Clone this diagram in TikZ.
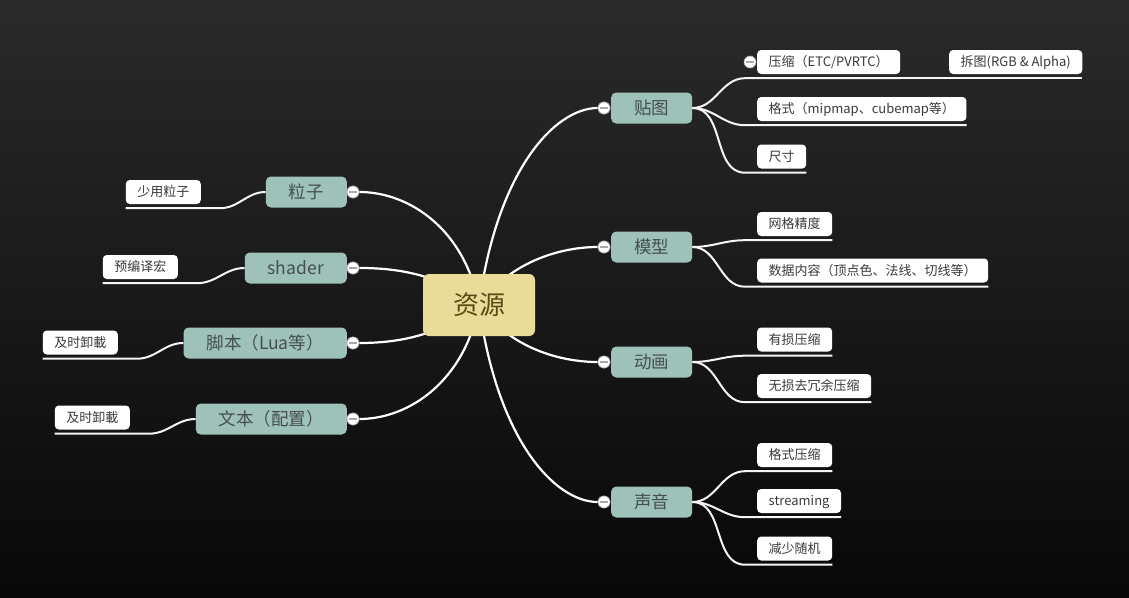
\documentclass[tikz,border=0pt]{standalone}
\usepackage{fontspec}
\setmainfont{Noto Sans CJK SC}
\usetikzlibrary{calc}
\definecolor{bgtop}{HTML}{2A2A2A}
\definecolor{bgmid}{HTML}{1D1D1D}
\definecolor{bgbot}{HTML}{080808}
\definecolor{rootfill}{HTML}{E8DC98}
\definecolor{roottext}{HTML}{5A4A14}
\definecolor{mainfill}{HTML}{9EC1B9}
\definecolor{maintext}{HTML}{44504E}
\definecolor{leaftext}{HTML}{3A3A3A}
\definecolor{knobline}{HTML}{A8A8A8}

\tikzset{
  rootbox/.style={fill=rootfill, rounded corners=6pt, minimum width=112pt, minimum height=62pt,
    inner sep=0pt, text=roottext, font=\fontsize{26}{30}\selectfont, text height=21.5pt, text depth=2.5pt},
  mainbox/.style={fill=mainfill, rounded corners=5pt, minimum width=80pt, minimum height=31pt,
    inner xsep=23pt, inner ysep=0pt, text=maintext, font=\fontsize{17.5}{20}\selectfont,
    text height=14.5pt, text depth=1.7pt},
  leafbox/.style={fill=white, rounded corners=4pt, minimum height=24pt, inner xsep=11.5pt,
    inner ysep=0pt, text=leaftext, font=\fontsize{13}{15}\selectfont, text height=11pt, text depth=1.5pt},
  knob/.style={circle, fill=white, draw=knobline, line width=0.6pt, minimum size=12pt, inner sep=0pt,
    path picture={\draw[knobline,line width=1.2pt] ([xshift=-4pt]path picture bounding box.center)
      -- ([xshift=4pt]path picture bounding box.center);}},
  branch/.style={white, line width=2.2pt},
  twig/.style={white!92!gray, line width=2pt},
}

\begin{document}
\begin{tikzpicture}[x=1pt,y=-1pt]
\fill[top color=bgtop,middle color=bgmid,bottom color=bgbot] (0,0) rectangle (1129,597);

% main topics
\node[mainbox,anchor=west] (tietu) at (611,108) {贴图};
\node[mainbox,anchor=west] (moxing) at (611,247) {模型};
\node[mainbox,anchor=west] (donghua) at (611,362) {动画};
\node[mainbox,anchor=west] (shengyin) at (611,502) {声音};
\node[mainbox,anchor=east] (lizi) at (347,192) {粒子};
\node[mainbox,anchor=east] (shader) at (347,268) {shader};
\node[mainbox,anchor=east] (jiaoben) at (347,343) {脚本（Lua等）};
\node[mainbox,anchor=east] (wenben) at (347,419) {文本（配置）};

\foreach \m in {tietu,moxing,donghua,shengyin}
  \node[knob] (k-\m) at ([xshift=-7pt]\m.west) {};
\foreach \m in {lizi,shader,jiaoben,wenben}
  \node[knob] (k-\m) at ([xshift=6pt]\m.east) {};

% branches from the root
\coordinate (hub) at (479,305);
\draw[branch] (hub) .. controls +(18,-135) and +(-49,0) .. (k-tietu);
\draw[branch] (hub) .. controls +(31,-43) and +(-44,0) .. (k-moxing);
\draw[branch] (hub) .. controls +(31,43) and +(-44,0) .. (k-donghua);
\draw[branch] (hub) .. controls +(18,135) and +(-49,0) .. (k-shengyin);
\draw[branch] (hub) .. controls +(-14,-75) and +(57,0) .. (k-lizi);
\draw[branch] (hub) .. controls +(-39,-30) and +(47,0) .. (k-shader);
\draw[branch] (hub) .. controls +(-39,30) and +(47,0) .. (k-jiaoben);
\draw[branch] (hub) .. controls +(-14,75) and +(57,0) .. (k-wenben);
\foreach \m in {tietu,moxing,donghua,shengyin,lizi,shader,jiaoben,wenben}
  \node[knob] at (k-\m) {};

\node[rootbox] (root) at (479,305) {资源};

% leaves
\node[leafbox,anchor=west] (yasuo) at (757,62) {压缩（ETC/PVRTC）};
\node[leafbox,anchor=west] (chaitu) at (949,62) {拆图(RGB \& Alpha)};
\node[leafbox,anchor=west] (geshi) at (757,109) {格式（mipmap、cubemap等）};
\node[leafbox,anchor=west] (chicun) at (757,156.5) {尺寸};
\node[leafbox,anchor=west] (wangge) at (757,224) {网格精度};
\node[leafbox,anchor=west] (shuju) at (757,270.5) {数据内容（顶点色、法线、切线等）};
\node[leafbox,anchor=west] (yousun) at (757,339.5) {有损压缩};
\node[leafbox,anchor=west] (wusun) at (757,386) {无损去冗余压缩};
\node[leafbox,anchor=west] (gsys) at (757,455) {格式压缩};
\node[leafbox,anchor=west] (stream) at (757,501) {streaming};
\node[leafbox,anchor=west] (jianshao) at (757,548.5) {减少随机};
\node[leafbox,anchor=east] (shaoyong) at (201,192) {少用粒子};
\node[leafbox,anchor=east] (yubianyi) at (178,267) {预编译宏};
\node[leafbox,anchor=east] (xiezai) at (118,342.5) {及时卸載};
\node[leafbox,anchor=east] (xiezaib) at (130,417.5) {及时卸載};
\node[knob] (k-yasuo) at ([xshift=-7pt]yasuo.west) {};

\foreach \p/\l in {tietu/yasuo,tietu/geshi,tietu/chicun,moxing/wangge,moxing/shuju,
    donghua/yousun,donghua/wusun,shengyin/gsys,shengyin/stream,shengyin/jianshao}
  \draw[twig] (\p.east) to[out=0,in=180] ([xshift=-12pt,yshift=-4pt]\l.south west)
    -- ([yshift=-4pt]\l.south east);
\draw[twig] ([yshift=-4pt]yasuo.south east) -- ([yshift=-4pt]chaitu.south east);
\foreach \p/\l in {lizi/shaoyong,shader/yubianyi,jiaoben/xiezai,wenben/xiezaib}
  \draw[twig] (\p.west) to[out=180,in=0] ([xshift=19pt,yshift=-4pt]\l.south east)
    -- ([yshift=-4pt]\l.south west);
\end{tikzpicture}
\end{document}
